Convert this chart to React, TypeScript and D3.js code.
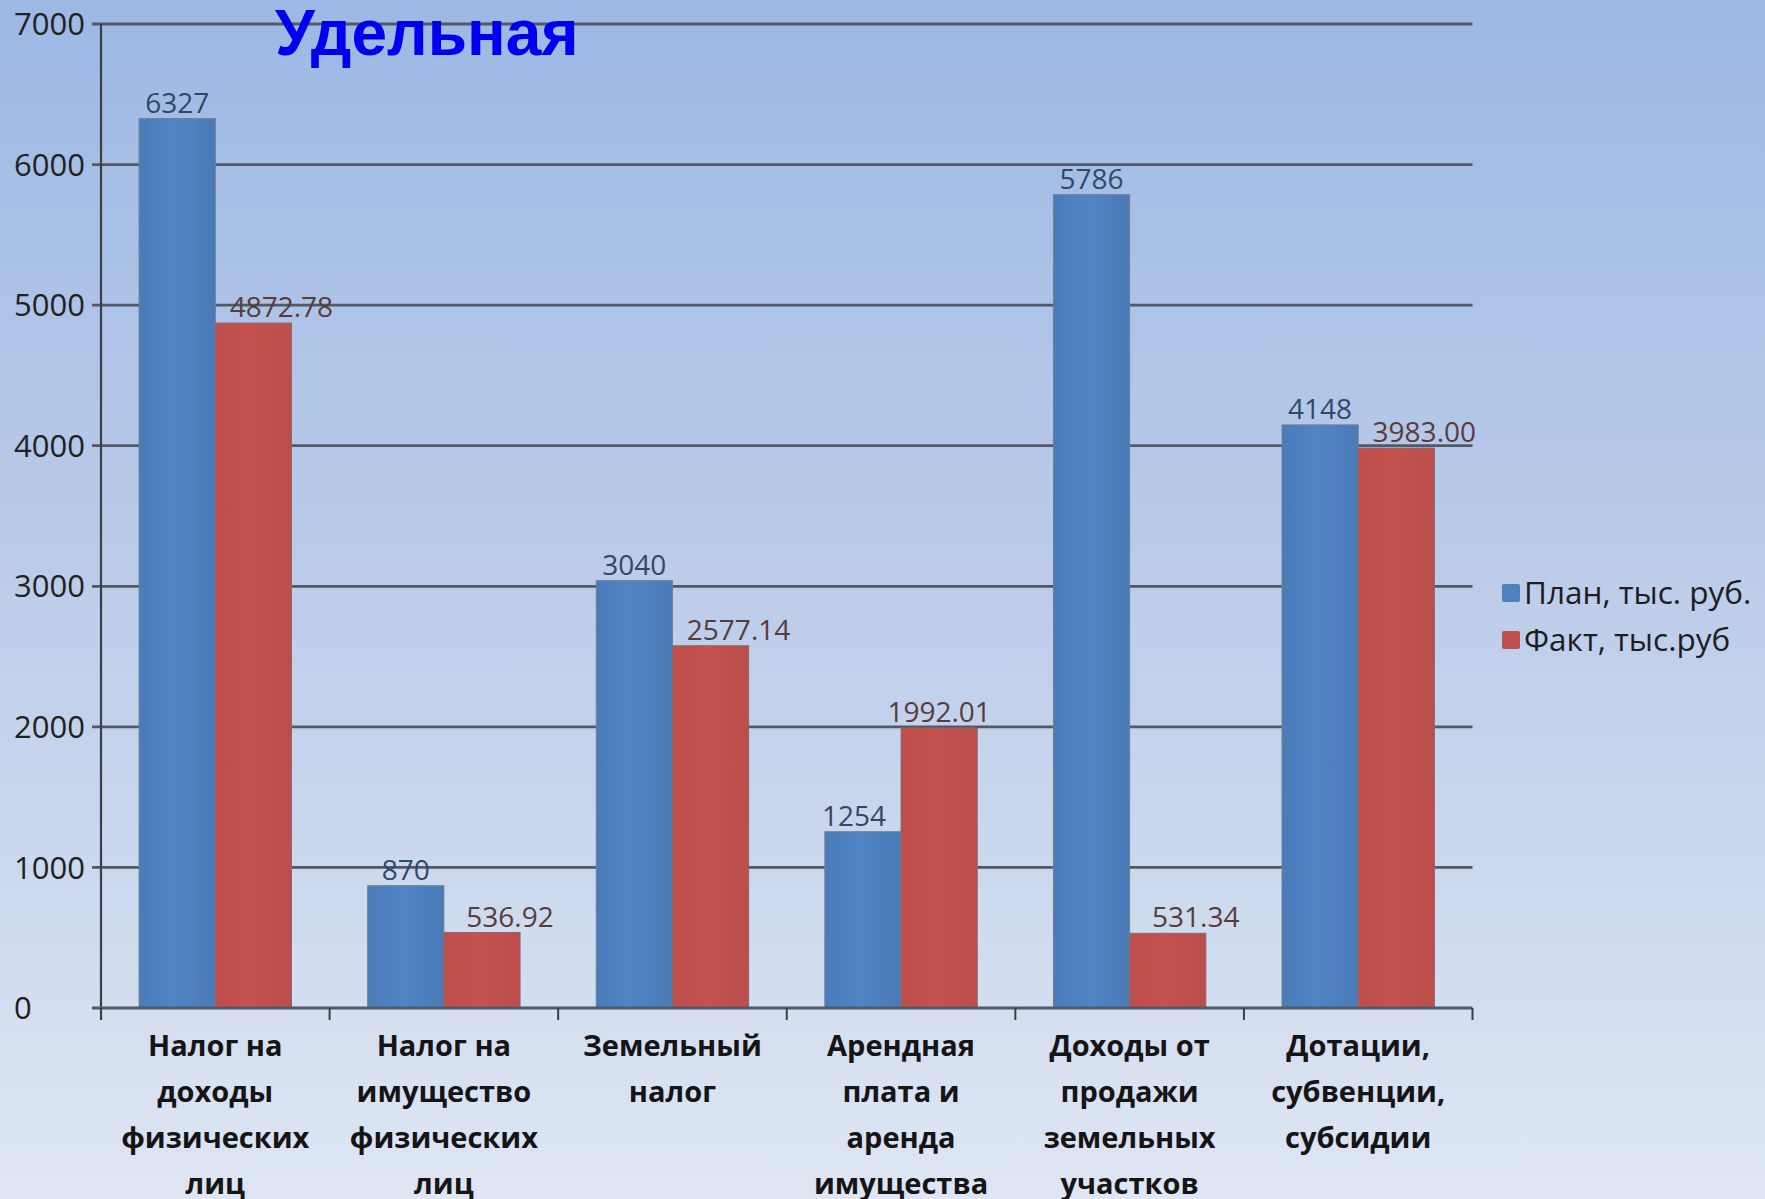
import React, { useEffect, useRef } from 'react';
import * as d3 from 'd3';

const categories = [
  'Налог на доходы физических лиц',
  'Налог на имущество физических лиц',
  'Земельный налог',
  'Арендная плата и аренда имущества',
  'Доходы от продажи земельных участков',
  'Дотации, субвенции, субсидии',
];

// wrapped lines of the axis labels, as in the picture
const categoryLines = [
  ['Налог на', 'доходы', 'физических', 'лиц'],
  ['Налог на', 'имущество', 'физических', 'лиц'],
  ['Земельный', 'налог'],
  ['Арендная', 'плата и', 'аренда', 'имущества'],
  ['Доходы от', 'продажи', 'земельных', 'участков'],
  ['Дотации,', 'субвенции,', 'субсидии'],
];

const planValues = [6327, 870, 3040, 1254, 5786, 4148];
const factValues = [4872.78, 536.92, 2577.14, 1992.01, 531.34, 3983.0];

const seriesNames = ['План, тыс. руб.', 'Факт, тыс.руб'];
const yTicks = [0, 1000, 2000, 3000, 4000, 5000, 6000, 7000];

const W = 1765;
const H = 1199;

const App: React.FC = () => {
  const ref = useRef<SVGSVGElement | null>(null);

  useEffect(() => {
    document.body.style.margin = '0';
    document.body.style.overflow = 'hidden';
    if (!ref.current) return;
    const svg = d3.select<SVGSVGElement, unknown>(ref.current);
    svg.selectAll('*').remove();

    const left = 101;
    const right = 1472.5;
    const x0 = d3.scaleBand<string>().domain(categories).range([left, right]).padding(0);
    const x1 = d3
      .scaleBand<string>()
      .domain(['plan', 'fact'])
      .range([0, x0.bandwidth()])
      .paddingInner(0)
      .paddingOuter(0.5);
    const y = d3.scaleLinear().domain([0, 7000]).range([1008, 24]);

    const defs = svg.append('defs');
    const bg = defs.append('linearGradient').attr('id', 'bg').attr('x1', 0).attr('y1', 0).attr('x2', 0).attr('y2', 1);
    bg.append('stop').attr('offset', '0%').attr('stop-color', '#9cb8e4');
    bg.append('stop').attr('offset', '50%').attr('stop-color', '#bdcdea');
    bg.append('stop').attr('offset', '100%').attr('stop-color', '#dee6f3');

    const mkBar = (id: string, a: string, b: string, c: string) => {
      const g = defs.append('linearGradient').attr('id', id).attr('x1', 0).attr('y1', 0).attr('x2', 1).attr('y2', 0);
      g.append('stop').attr('offset', '0%').attr('stop-color', a);
      g.append('stop').attr('offset', '45%').attr('stop-color', b);
      g.append('stop').attr('offset', '100%').attr('stop-color', c);
    };
    mkBar('gBlue', '#4a7bb9', '#5283c4', '#4a7bb7');
    mkBar('gRed', '#bd4e4b', '#c4524f', '#bb4e4b');

    svg.append('rect').attr('width', W).attr('height', H).attr('fill', 'url(#bg)');

    // gridlines
    svg
      .append('g')
      .selectAll('line')
      .data(yTicks.filter((t) => t > 0))
      .enter()
      .append('line')
      .attr('x1', 92)
      .attr('x2', right)
      .attr('y1', (d) => y(d))
      .attr('y2', (d) => y(d))
      .attr('stroke', '#525866')
      .attr('stroke-width', 2.8);

    // y tick labels (left aligned)
    svg
      .append('g')
      .selectAll('text')
      .data(yTicks)
      .enter()
      .append('text')
      .attr('x', 14)
      .attr('y', (d) => y(d))
      .attr('dy', '0.36em')
      .attr('font-family', 'Open Sans')
      .attr('font-size', 31)
      .attr('fill', '#222')
      .text((d) => String(d));

    // bars
    const groups = svg
      .append('g')
      .selectAll('g')
      .data(categories)
      .enter()
      .append('g')
      .attr('transform', (d) => `translate(${x0(d)},0)`);

    groups
      .append('rect')
      .attr('x', x1('plan')!)
      .attr('y', (_d, i) => y(planValues[i]))
      .attr('width', x1.bandwidth())
      .attr('height', (_d, i) => y(0) - y(planValues[i]))
      .attr('fill', 'url(#gBlue)')
      .attr('stroke', '#6f7f93')
      .attr('stroke-width', 1);

    groups
      .append('rect')
      .attr('x', x1('fact')!)
      .attr('y', (_d, i) => y(factValues[i]))
      .attr('width', x1.bandwidth())
      .attr('height', (_d, i) => y(0) - y(factValues[i]))
      .attr('fill', 'url(#gRed)')
      .attr('stroke', '#8a6a6a')
      .attr('stroke-width', 1);

    // value labels, nudged like the hand-placed labels of the original
    const planNudge = (i: number) => (i === 3 ? -9 : 0);
    const factNudge = (i: number) => (i === 3 ? 0 : 28);

    groups
      .append('text')
      .attr('x', (_d, i) => x1('plan')! + x1.bandwidth() / 2 + planNudge(i))
      .attr('y', (_d, i) => y(planValues[i]) - 6)
      .attr('text-anchor', 'middle')
      .attr('font-family', 'Open Sans')
      .attr('font-size', 28)
      .attr('fill', '#2f4a66')
      .text((_d, i) => String(planValues[i]));

    groups
      .append('text')
      .attr('x', (_d, i) => x1('fact')! + x1.bandwidth() / 2 + factNudge(i))
      .attr('y', (_d, i) => y(factValues[i]) - 6)
      .attr('text-anchor', 'middle')
      .attr('font-family', 'Open Sans')
      .attr('font-size', 28)
      .attr('fill', '#583c3c')
      .text((_d, i) => factValues[i].toFixed(2));

    // axes
    svg
      .append('line')
      .attr('x1', left)
      .attr('x2', left)
      .attr('y1', y(7000))
      .attr('y2', y(0) + 12)
      .attr('stroke', '#3c3f46')
      .attr('stroke-width', 2.2);
    svg
      .append('line')
      .attr('x1', 92)
      .attr('x2', right)
      .attr('y1', y(0))
      .attr('y2', y(0))
      .attr('stroke', '#525866')
      .attr('stroke-width', 2.8);
    const bounds = categories.map((c) => x0(c)!).concat([right]);
    svg
      .append('g')
      .selectAll('line')
      .data(bounds)
      .enter()
      .append('line')
      .attr('x1', (d) => d)
      .attr('x2', (d) => d)
      .attr('y1', y(0))
      .attr('y2', y(0) + 12)
      .attr('stroke', '#3c3f46')
      .attr('stroke-width', 2);

    // category labels
    const lab = svg
      .append('g')
      .selectAll('text')
      .data(categories)
      .enter()
      .append('text')
      .attr('text-anchor', 'middle')
      .attr('font-family', 'Open Sans')
      .attr('font-weight', 700)
      .attr('font-size', 29)
      .attr('fill', '#151515');
    lab.each(function (d, i) {
      const t = d3.select(this);
      categoryLines[i].forEach((line, k) => {
        t.append('tspan')
          .attr('x', x0(d)! + x0.bandwidth() / 2)
          .attr('y', 1056 + k * 46)
          .text(line);
      });
    });

    // legend
    const colors = ['#4f81bd', '#c0504d'];
    const lg = svg.append('g');
    seriesNames.forEach((name, i) => {
      const cy = 593 + i * 47;
      lg.append('rect')
        .attr('x', 1502)
        .attr('y', cy - 9)
        .attr('width', 18)
        .attr('height', 18)
        .attr('rx', 2)
        .attr('fill', colors[i]);
      lg.append('text')
        .attr('x', 1524)
        .attr('y', cy)
        .attr('dy', '0.36em')
        .attr('font-family', 'Open Sans')
        .attr('font-size', 31.5)
        .attr('fill', '#1e1e1e')
        .text(name);
    });

    // title
    svg
      .append('text')
      .attr('x', 275)
      .attr('y', 55)
      .attr('font-family', 'Liberation Sans, Arial')
      .attr('font-weight', 700)
      .attr('font-size', 64)
      .attr('fill', '#0000f0')
      .text('Удельная');
  }, []);

  return <svg ref={ref} width={W} height={H} style={{ position: 'fixed', left: 0, top: 0 }} />;
};

export default App;
